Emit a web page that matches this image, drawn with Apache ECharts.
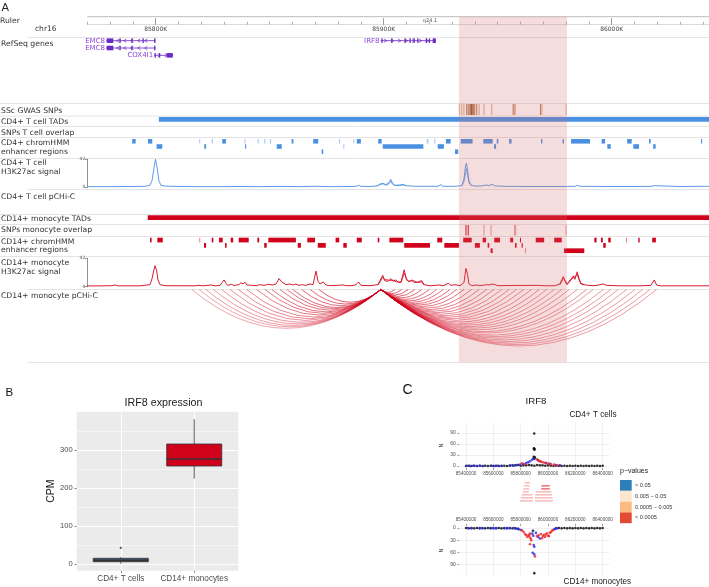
<!DOCTYPE html>
<html><head><meta charset="utf-8">
<script src="https://cdn.jsdelivr.net/npm/echarts@6/dist/echarts.min.js"></script>
<style>html,body{margin:0;padding:0;background:#fff}#c{width:709px;height:587px}</style>
</head><body><div id="c"></div>
<script>
// ================= DATA =================
// ---- Panel A (genomic positions in kb, chr16) ----
const viewStart = 85770, viewEnd = 86042.7;
const rulerMajor = [85800, 85900, 86000];
const highlightRegion = [[85933.0, 85980.4]];
const genes = [ // name, start, end, row, strand
  ['EMC8', 85778.2, 85799.9, 0, '-'],
  ['EMC8', 85778.2, 85799.9, 1, '-'],
  ['COX4I1', 85799.3, 85807.7, 2, '+'],
  ['IRF8', 85898.6, 85922.9, 0, '+']
];
const exons = [ // gene index, start, end
  [0,85778.5,85781.4],[0,85784.1,85784.6],[0,85789.3,85789.8],[0,85794.2,85794.7],[0,85799.3,85799.9],
  [1,85778.5,85781.4],[1,85784.1,85784.6],[1,85789.3,85789.8],[1,85799.3,85799.9],
  [2,85799.5,85799.9],[2,85801.4,85801.8],[2,85804.8,85807.5],
  [3,85899.0,85899.4],[3,85903.3,85903.7],[3,85909.1,85909.5],[3,85911.3,85911.7],[3,85913.1,85913.5],
  [3,85914.7,85915.1],[3,85918.4,85918.8],[3,85919.8,85920.2],[3,85921.5,85922.9]
];
const gwasSnps = [ // position, level
  [85933.2,1],[85934.2,1],[85935.2,1],[85936.4,2],[85937.1,2],[85937.9,3],[85938.6,3],[85939.2,3],
  [85939.9,2],[85940.8,2],[85941.9,1],[85944.0,1],[85947.4,1],[85956.8,2],[85957.6,2],[85968.8,2],
  [85969.4,1],[85980.0,1]
];
const tadCD4 = [[85801.4, 86042.7]];
const tadCD14 = [[85796.5, 86042.7]];
const enhCD4 = [ // start, end, row, score
  [85789.7,85791.2,0,1],[85796.6,85798.5,0,1],[85819.1,85819.5,0,0.5],[85824.6,85825.0,0,0.6],[85829.2,85830.8,0,1],
  [85838.9,85839.2,0,0.5],[85844.7,85845.2,0,0.5],[85847.6,85848.1,0,0.5],[85850.1,85850.6,0,0.5],[85859.6,85860.4,0,1],
  [85869.1,85871.3,0,1],[85880.4,85880.7,0,0.5],[85886.7,85887.0,0,0.5],[85888.2,85890.0,0,1],[85897.6,85899.1,0,1],
  [85918.9,85919.6,0,0.5],[85922.2,85922.6,0,0.5],[85927.3,85929.4,0,1],[85933.8,85939.0,0,1],[85943.7,85947.8,0,1],
  [85949.6,85950.3,0,1],[85955.0,85956.1,0,1],[85969.0,85969.6,0,1],[85978.5,85979.1,0,1],[85982.2,85990.5,0,1],
  [85995.6,85997.1,0,1],[86006.8,86008.8,0,1],[86016.4,86017.1,0,1],[86039.2,86039.7,0,1],
  [85800.4,85802.9,1,1],[85821.3,85822.1,1,1],[85839.2,85839.7,1,1],[85853.1,85855.3,1,1],[85882.3,85882.7,1,0.5],
  [85899.6,85917.4,1,1],[85923.7,85926.4,1,1],[85948.4,85949.3,1,1],[85998.1,85999.6,1,1],[86009.5,86012.0,1,1],
  [86018.2,86019.3,1,1],
  [85872.8,85873.5,2,1],[85931.3,85932.7,2,1]
];
const signalCD4 = [
  [85769.9,1.0],[85780.0,1.0],[85788.7,1.2],[85795.3,1.5],[85797.5,3],[85798.4,10],[85799.3,30],[85799.9,42],
  [85800.6,30],[85801.4,10],[85802.3,3],[85804.1,1.8],[85810.7,1.2],[85819.4,1.0],[85828.2,1.0],[85837.0,1.2],
  [85845.7,1.0],[85854.5,1.3],[85863.3,1.0],[85869.9,1.6],[85876.4,1.0],[85885.2,1.2],[85887.9,1.5],[85889.0,3],
  [85890.0,1.5],[85894.0,1.2],[85897.1,2],[85898.4,5],[85899.7,6],[85901.0,4],[85902.3,7],[85903.1,12],
  [85903.9,6],[85905.0,3],[85907.1,3.5],[85908.5,4.5],[85909.8,2.5],[85913.7,1.5],[85920.3,1.5],[85923.8,1.5],
  [85925.1,4],[85926.0,1.5],[85931.3,1.5],[85934.3,2.5],[85935.2,12],[85935.9,32],[85936.3,36],[85936.8,26],
  [85937.4,10],[85938.3,3],[85940.0,1.8],[85943.1,2],[85944.9,3.5],[85946.2,2.5],[85947.5,4.5],[85948.8,2],
  [85953.2,1.5],[85964.2,1.2],[85977.3,1.2],[85983.9,1.5],[85985.1,3],[85986.1,1.5],[85994.9,1.3],[86003.6,1.2],
  [86012.4,1.2],[86017.7,1.5],[86018.6,2.5],[86019.4,1.5],[86030.0,1.2],[86038.7,1.5],[86042.7,1.5]
];
const signalCD4RepA = [[85934.3,2],[85935.2,8],[85935.9,20],[85936.3,28],[85936.8,18],[85937.4,7],[85938.3,2.5]];
const signalCD4RepB = [[85897.1,1.5],[85898.4,4],[85899.7,5],[85901.0,3],[85902.3,5],[85903.1,9],[85903.9,4.5],
  [85905.0,2.5],[85907.1,2.5],[85908.5,3.5],[85909.8,2]];
const snpMono = [[85936.1,2],[85937.1,2],[85944.0,1],[85947.1,1],[85957.4,1],[85957.9,1],[85980.0,1]];
const enhCD14 = [
  [85797.5,85798.2,0,1],[85800.7,85803.1,0,1],[85819.1,85819.4,0,0.5],[85824.6,85825.3,0,1],[85827.8,85829.4,0,1],
  [85832.9,85834.0,0,1],[85836.4,85840.8,0,1],[85844.6,85845.4,0,1],[85849.4,85861.5,0,1],[85866.5,85869.9,0,1],
  [85878.9,85880.5,0,1],[85888.2,85890.4,0,1],[85897.4,85898.1,0,1],[85902.5,85908.6,0,1],[85923.5,85925.7,0,1],
  [85934.9,85938.6,0,1],[85943.4,85944.9,0,1],[85948.5,85951.0,0,1],[85955.5,85956.8,0,1],[85959.8,85960.2,0,1],
  [85966.7,85970.4,0,1],[85974.8,85978.1,0,1],[85992.4,85993.4,0,1],[85995.3,85996.1,0,1],[85998.5,85999.6,0,1],
  [86006.3,86006.7,0,0.5],[86011.7,86012.3,0,1],[86017.8,86019.4,0,1],
  [85821.2,85822.1,1,1],[85830.4,85831.1,1,1],[85847.6,85848.7,1,1],[85862.3,85863.7,1,1],[85871.1,85874.6,1,1],
  [85882.3,85883.8,1,1],[85909.0,85920.3,1,1],[85926.6,85933.0,1,1],[85940.0,85942.2,1,1],[85945.6,85946.3,1,1],
  [85957.6,85958.3,1,1],[85960.5,85961.0,1,1],[85996.3,85997.4,1,1],
  [85946.9,85947.8,2,1],[85962.0,85962.3,2,0.5],[85979.1,85988.0,2,1]
];
const signalCD14 = [
  [85769.9,1.2],[85775.6,1.2],[85780.8,1.5],[85782.2,2.5],[85783.5,1.3],[85793.1,1.3],[85797.5,3],[85798.4,12],
  [85799.3,26],[85799.7,31],[85800.4,24],[85801.0,10],[85801.9,3],[85804.1,1.5],[85817.2,1.3],[85819.0,2],
  [85820.7,1.3],[85824.3,2.5],[85826.0,1.3],[85828.2,2],[85829.1,6],[85830.0,10],[85830.8,5],[85831.7,2],
  [85833.3,3.5],[85834.3,1.8],[85836.5,3],[85837.4,6],[85838.3,4],[85839.2,6.5],[85840.0,2.5],[85842.1,2],
  [85844.0,1.5],[85845.7,3],[85847.5,2],[85849.3,3.5],[85851.4,2.5],[85852.8,4],[85854.1,12],[85855.3,7],
  [85855.8,5],[85857.1,3],[85858.9,4],[85860.2,2.5],[85861.5,4],[85862.9,2],[85864.0,3],[85865.9,2],
  [85867.7,4],[85869.0,3],[85870.3,23],[85871.2,8],[85872.1,4],[85873.5,7],[85874.7,2.5],[85876.4,1.5],
  [85882.3,2.5],[85883.5,1.5],[85886.1,1.5],[85887.9,3],[85889.0,7],[85890.0,2],[85894.0,1.5],[85897.5,3],
  [85898.4,9],[85899.6,17],[85900.4,9],[85901.0,11],[85901.9,8],[85903.2,12],[85904.1,8],[85905.4,10],
  [85906.4,6],[85907.6,7],[85909.0,25],[85910.0,10],[85911.1,8],[85912.4,9],[85913.7,6],[85915.0,7],
  [85916.7,9],[85917.7,3],[85920.3,1.5],[85924.7,2.5],[85926.0,1.3],[85928.3,5],[85929.5,2],[85931.3,3],
  [85933.5,1.5],[85935.2,6],[85936.1,27],[85936.8,18],[85937.4,4],[85938.7,1.5],[85940.8,2.5],[85942.2,1.5],
  [85945.2,3],[85946.2,2.5],[85947.5,4],[85948.8,3],[85950.1,1.5],[85956.8,1.8],[85967.8,2],[85970.8,1.3],
  [85975.1,1.5],[85977.3,4],[85978.8,15],[85979.7,7],[85980.4,3],[85981.7,8],[85983.2,16],[85983.9,11],
  [85984.9,22],[85985.7,12],[85986.5,5],[85987.9,3],[85989.6,2],[85992.7,1.5],[85996.3,4],[85997.8,2],
  [86003.6,1.3],[86012.4,1.3],[86017.2,2],[86018.7,10],[86019.7,2.5],[86021.2,1.3],[86042.7,1.3]
];
const signalCD14RepA = [[85897.5,2.5],[85898.4,7],[85899.6,14],[85900.4,11],[85901.0,9],[85901.9,10],[85903.2,9],
  [85904.1,10],[85905.4,7],[85906.4,8],[85907.6,6],[85909.0,20],[85910.0,12],[85911.1,7],[85912.4,10],[85913.7,8],
  [85915.0,6],[85916.7,7],[85917.7,2.5]];
const signalCD14RepB = [[85977.3,3],[85978.8,12],[85979.7,9],[85980.4,4],[85981.7,10],[85983.2,13],[85983.9,14],
  [85984.9,18],[85985.7,10],[85986.5,4],[85987.9,2.5]];
const pchicAnchor = 85898.8;
const pchicEnds = [ // other end, score
  [85815.8,0.45],[85819.0,0.45],[85821.9,0.5],[85825.3,0.5],[85828.9,0.55],[85832.6,0.55],[85836.2,0.6],[85839.9,0.6],
  [85844.3,0.65],[85847.9,0.65],[85850.9,0.7],[85854.5,0.7],[85857.5,0.7],[85860.1,0.75],[85864.0,0.75],[85867.7,0.75],
  [85871.6,0.8],
  [85905.0,0.8],[85907.9,0.8],[85910.8,0.8],[85913.7,0.75],[85916.7,0.75],[85920.0,0.75],[85923.2,0.7],[85926.1,0.7],
  [85929.1,0.7],[85932.0,0.7],[85935.2,0.7],[85938.6,0.65],[85941.9,0.65],[85945.2,0.65],[85948.4,0.65],[85951.8,0.6],
  [85955.1,0.6],[85958.3,0.6],[85961.5,0.6],[85964.9,0.6],[85968.2,0.6],[85971.5,0.55],[85974.8,0.55],[85978.1,0.55],
  [85981.4,0.55],[85984.9,0.55],[85989.0,0.55],[85991.9,0.5],[85996.3,0.5],[85999.6,0.5],[86002.9,0.5],[86006.6,0.5],
  [86010.2,0.5],[86013.6,0.5],[86016.8,0.5],[86019.7,0.5]
];

// ---- Panel B ----
const exprCats = ['CD4+ T cells', 'CD14+ monocytes'];
const exprBox = [[1.6, 6.8, 10.5, 15.8, 19], [225.3, 258.7, 277, 316.6, 381.6]]; // min,q1,median,q3,max
const exprOutliers = [[1, 43]];
const cpmTicks = [0, 100, 200, 300];
const cpmMinor = [50, 150, 250, 350];

// ---- Panel C ----
const posTicks = [85400000, 85600000, 85800000, 86000000, 86200000, 86400000];
const posMinor = [85500000, 85700000, 85900000, 86100000, 86300000];
const nTicks = [0, 30, 60, 90];
const nMinor = [15, 45, 75, 105];
const cd4Black = [
  [85400000,0],[85420000,1],[85440000,0],[85460000,1],[85480000,0],[85500000,1],[85520000,0],[85540000,1],[85560000,0],
  [85580000,1],[85600000,0],[85620000,1],[85640000,0],[85660000,1],[85680000,1],[85700000,0],[85720000,1],[85740000,2],
  [85760000,2],[85780000,3],[85800000,1],[85820000,2],[85840000,2],[85860000,3],[85880000,2],[85900000,1],[85920000,3],
  [85940000,2],[85960000,2],[85980000,1],[86000000,2],[86020000,1],[86040000,0],[86060000,1],[86080000,1],[86100000,0],
  [86120000,1],[86140000,0],[86160000,1],[86180000,0],[86200000,1],[86220000,0],[86240000,1],[86260000,0],[86280000,1],
  [86300000,0],[86320000,1],[86340000,0],[86360000,1],[86380000,0],[86400000,1],
  [85896000,25],[85897000,48],[85898000,22],[85898000,46],[85899000,88],[85899500,46],[85900500,20],[85901000,44],[85903000,24]
];
const cd4Blue = [
  [85405000,1],[85429000,0],[85453000,1],[85478000,0],[85502000,1],[85526000,0],[85588000,1],[85612000,0],[85634000,1],
  [85661000,0],[85722000,2],[85746000,1],[85771000,3],[85795000,4],[85817000,6],[85839000,8],[85854000,10],[85868000,13],
  [85883000,17],[85892000,20],[85927000,16],[85941000,13],[85985000,8],[86015000,6],[86058000,3],[86088000,2]
];
const cd4Red = [
  [85807000,7],[85832000,5],[85919000,18],[85934000,14],[85949000,12],[85963000,10],[85978000,9],[86000000,7],
  [86022000,5],[86044000,4],[86066000,2]
];
const cd14Black = [
  [85400000,0],[85420000,1],[85440000,0],[85460000,1],[85480000,0],[85500000,1],[85520000,0],[85540000,1],[85560000,0],
  [85580000,1],[85600000,0],[85620000,1],[85640000,0],[85660000,1],[85680000,0],[85700000,1],[85720000,0],[85740000,1],
  [85760000,1],[85780000,2],[86060000,1],[86080000,0],[86100000,1],[86120000,0],[86140000,1],[86160000,0],[86180000,1],
  [86200000,0],[86220000,1],[86240000,0],[86260000,1],[86280000,0],[86300000,1],[86320000,0],[86340000,1],[86360000,0],
  [86380000,1],[86400000,0],[85890000,7],[85899600,111]
];
const cd14Blue = [
  [85410000,0],[85440000,1],[85500000,0],[85520000,1],[85580000,0],[85600000,1],[85620000,0],[85680000,1],[85700000,0],
  [85720000,1],[85750000,0],[85770000,2],[85785000,3],[85800000,5],[85885000,14],[85892000,19],[85899600,46],[85888000,61],
  [85899600,65],[85895000,42],[85912000,12],[85927000,22],[85940000,26],[86044000,4],[86052000,2],[86066000,1]
];
const cd14Red = [
  [85810000,6],[85821000,10],[85832000,15],[85840000,18],[85850000,22],[85858000,17],[85863000,20],[85868000,14],
  [85872000,25],[85877000,30],[85868000,40],[85904700,70],[85919000,20],[85930000,18],[85948000,15],[85956000,25],
  [85963000,20],[85970000,17],[85978000,22],[85985000,16],[85992000,13],[86000000,19],[86007000,20],[86014000,12],
  [86022000,10],[86029000,7],[86036000,5]
];
const pinkRows = [ // start, end, row, dark
  [85830000,85868000,0,0],[85825000,85866000,1,0],[85820000,85862000,2,0],[85815000,85860000,3,0],
  [85808000,85886000,4,0],[85800000,85890000,5,0],[85795000,85888000,6,0],
  [85952000,86012000,1,1],[85950000,86014000,2,1],[85910000,86025000,3,0],[85906000,86030000,4,0],
  [85905000,86034000,5,0],[85905000,86036000,6,0]
];
const pLegend = ['> 0.05', '0.005 \u2212 0.05', '0.0005 \u2212 0.005', '< 0.0005'];
const pColors = ['#2c7fb8', '#fee6ce', '#fdbb84', '#e34a33'];

// ================= STYLE / LAYOUT =================
const BLUE = '#4a90e2', RED = '#d0021b', GENE = '#6a2bc2', GENE_LBL = '#8a46d6';
const FA = 'DejaVu Sans', FB = 'Liberation Sans';

function ax(o) {
  const base = {type:'value', axisLine:{show:false, onZero:false}, axisTick:{show:false}, axisLabel:{show:false},
    splitLine:{show:false}, splitArea:{show:false}, minorTick:{show:false}, minorSplitLine:{show:false}};
  for (const k in o) {
    if (o[k] && typeof o[k] === 'object' && !Array.isArray(o[k]) && base[k] && typeof base[k] === 'object') base[k] = Object.assign({}, base[k], o[k]);
    else base[k] = o[k];
  }
  return base;
}
function G(top, height, left, width, extra) {
  return Object.assign({left: left === undefined ? 87.3 : left, top, width: width === undefined ? 621.7 : width, height,
    containLabel:false, outerBoundsMode:'none', show:false}, extra || {});
}
function bandRender(color, h) {
  return function (params, api) {
    const cs = params.coordSys;
    const p0 = api.coord([api.value(0), api.value(2)]);
    const p1 = api.coord([api.value(1), api.value(2) + h]);
    let x0 = Math.max(cs.x, Math.min(p0[0], p1[0]));
    let x1 = Math.min(cs.x + cs.width, Math.max(p0[0], p1[0]));
    if (x1 - x0 < 1) x1 = x0 + 1;
    const sc = api.value(3);
    const fill = typeof color === 'function' ? color(sc) : color;
    return {type:'rect', shape:{x:x0, y:Math.min(p0[1], p1[1]), width:x1 - x0, height:Math.abs(p1[1] - p0[1])},
      style:{fill, opacity: (typeof color === 'function' || isNaN(sc)) ? 1 : sc}};
  };
}
function tickRender(colors) {
  return function (params, api) {
    const cs = params.coordSys;
    const p = api.coord([api.value(0), 0]);
    return {type:'rect', shape:{x:p[0] - 0.6, y:cs.y, width:1.2, height:cs.height}, style:{fill: colors[api.value(1) - 1]}};
  };
}

// ---- grids ----
const grids = [
  G(16.7, 8),     // 0 ruler
  G(37, 22),      // 1 genes
  G(104, 11),     // 2 gwas
  G(117.1, 4.6),  // 3 tad cd4
  G(139, 15.6),   // 4 enh cd4
  G(159.3, 28),   // 5 sig cd4
  G(215.2, 4.8),  // 6 tad cd14
  G(225, 10.5),   // 7 snp mono
  G(237.7, 16),   // 8 enh cd14
  G(258.3, 28.4), // 9 sig cd14
  G(289.5, 72),   // 10 arcs
  G(16.7, 345.6), // 11 highlight
  G(411.7, 159, 76.7, 161.6, {show:true, backgroundColor:'#ebebeb', borderWidth:0}), // 12 B
  G(423, 45.1, 459.2, 150.3),   // 13 C top
  G(482, 21, 459.2, 150.3),     // 14 C middle
  G(525.7, 49.7, 459.2, 150.3)  // 15 C bottom
];

const xAxes = [];
const yAxes = [];
// ruler
xAxes.push(ax({gridIndex:0, min:viewStart, max:viewEnd, interval:10, position:'bottom',
  axisLine:{show:true, lineStyle:{color:'#dcdcdc', width:1}},
  axisTick:{show:true, inside:true, length:3, lineStyle:{color:'#b0b0b0', width:1}}}));
xAxes.push(ax({gridIndex:0, min:viewStart, max:viewEnd, position:'bottom',
  axisTick:{show:true, inside:true, length:6.5, customValues:rulerMajor, lineStyle:{color:'#999', width:1}},
  axisLabel:{show:true, customValues:rulerMajor, formatter: v => v + 'K', fontSize:6, color:'#444', margin:1.8, fontFamily:FA}}));
yAxes.push(ax({gridIndex:0, min:0, max:1}));
// genomic tracks: grids 1..11 -> xAxis 2..12, yAxis 1..11
const yCfg = {
  1:{min:0,max:3,inverse:true}, 2:{min:0,max:3}, 3:{min:0,max:0.88}, 4:{min:0,max:3,inverse:true},
  6:{min:0,max:0.88}, 7:{min:0,max:3}, 8:{min:0,max:3,inverse:true}, 10:{min:0,max:1,inverse:true}, 11:{min:0,max:0.88}
};
for (let g = 1; g <= 11; g++) {
  xAxes.push(ax({gridIndex:g, min:viewStart, max:viewEnd}));
  if (g === 5 || g === 9) {
    yAxes.push(ax({gridIndex:g, min:0, max:42, interval:42,
      axisLine:{show:true, onZero:false, lineStyle:{color:'#777', width:0.8}},
      axisTick:{show:true, length:2.5, lineStyle:{color:'#777', width:0.8}},
      axisLabel:{show:true, fontSize:4.5, color:'#555', margin:2, fontFamily:FA}}));
  } else {
    yAxes.push(ax(Object.assign({gridIndex:g}, yCfg[g])));
  }
}
// B: xAxis 13, yAxis 12,13
xAxes.push(ax({gridIndex:12, min:0.4, max:2.6,
  axisTick:{show:true, length:2.2, customValues:[1,2], lineStyle:{color:'#333', width:0.6}},
  axisLabel:{show:true, customValues:[1,2], formatter: v => exprCats[Math.round(v) - 1], fontSize:8.2, color:'#4d4d4d', margin:4, fontFamily:FB},
  splitLine:{show:true, lineStyle:{color:'#fff', width:1}}}));
yAxes.push(ax({gridIndex:12, min:-16.8, max:401.6,
  axisTick:{show:true, length:2.2, customValues:cpmTicks, lineStyle:{color:'#333', width:0.6}},
  axisLabel:{show:true, customValues:cpmTicks, fontSize:7.6, color:'#4d4d4d', margin:4, fontFamily:FB},
  splitLine:{show:true, lineStyle:{color:'#fff', width:1}},
  name:'CPM', nameLocation:'middle', nameGap:17, nameRotate:90, nameTextStyle:{fontSize:10.5, color:'#1a1a1a', fontFamily:FB}}));
yAxes.push(ax({gridIndex:12, min:-16.8, max:401.6, position:'left',
  axisTick:{show:false, customValues:cpmMinor}, splitLine:{show:true, lineStyle:{color:'#fff', width:0.5}}}));
// C
function cX(grid, pos, major) {
  if (major) return ax({gridIndex:grid, min:85350000, max:86450000, position:pos,
    axisTick:{show:true, length:1.8, customValues:posTicks, lineStyle:{color:'#333', width:0.5}},
    axisLabel:{show:true, customValues:posTicks, formatter: v => String(v), fontSize:4.6, color:'#4d4d4d', margin:3, fontFamily:FB},
    splitLine:{show:true, lineStyle:{color:'#e6e6e6', width:0.6}}});
  return ax({gridIndex:grid, min:85350000, max:86450000, position:pos,
    axisTick:{show:false, customValues:posMinor}, splitLine:{show:true, lineStyle:{color:'#f3f3f3', width:0.4}}});
}
function cY(grid, inverse, major) {
  if (major) return ax({gridIndex:grid, min:-5.5, max:116.5, inverse, position:'left',
    axisTick:{show:true, length:1.8, customValues:nTicks, lineStyle:{color:'#333', width:0.5}},
    axisLabel:{show:true, customValues:nTicks, fontSize:5, color:'#4d4d4d', margin:3.5, fontFamily:FB},
    splitLine:{show:true, lineStyle:{color:'#e6e6e6', width:0.6}},
    name:'N', nameLocation:'middle', nameGap:14.5, nameRotate:90, nameTextStyle:{fontSize:5.5, color:'#222', fontFamily:FB}});
  return ax({gridIndex:grid, min:-5.5, max:116.5, inverse, position:'left',
    axisTick:{show:false, customValues:nMinor}, splitLine:{show:true, lineStyle:{color:'#f3f3f3', width:0.4}}});
}
xAxes.push(cX(13, 'bottom', true));   // 14
xAxes.push(cX(13, 'bottom', false));  // 15
xAxes.push(ax({gridIndex:14, min:85350000, max:86450000})); // 16
xAxes.push(cX(15, 'top', true));      // 17
xAxes.push(cX(15, 'top', false));     // 18
yAxes.push(cY(13, false, true));      // 14
yAxes.push(cY(13, false, false));     // 15
yAxes.push(ax({gridIndex:14, min:0, max:7, inverse:true})); // 16
yAxes.push(cY(15, true, true));       // 17
yAxes.push(cY(15, true, false));      // 18

// ---- series ----
const series = [];
// genes
series.push({type:'custom', xAxisIndex:2, yAxisIndex:1, silent:true,
  encode:{x:[0,1], y:2},
  data: genes.map((g, i) => [g[1], g[2], g[3], i]),
  renderItem: function (params, api) {
    const g = genes[params.dataIndex];
    const y = api.coord([g[1], g[3] + 0.5])[1];
    const x0 = api.coord([g[1], 0])[0], x1 = api.coord([g[2], 0])[0];
    const ch = [{type:'line', shape:{x1:x0, y1:y, x2:x1, y2:y}, style:{stroke:GENE, lineWidth:0.8}}];
    const dir = g[4] === '-' ? -1 : 1;
    for (let x = x0 + 5; x < x1 - 3; x += 7) {
      ch.push({type:'polyline', shape:{points:[[x - dir * 1.4, y - 1.7], [x + dir * 1.4, y], [x - dir * 1.4, y + 1.7]]},
        style:{stroke:GENE, fill:'none', lineWidth:0.7}});
    }
    exons.filter(e => e[0] === params.dataIndex).forEach(e => {
      const a = api.coord([e[1], 0])[0], b = api.coord([e[2], 0])[0];
      ch.push({type:'rect', shape:{x:a, y:y - 2.3, width:Math.max(b - a, 1.3), height:4.6}, style:{fill:GENE}});
    });
    ch.push({type:'text', style:{text:g[0], x:x0 - 1, y:y + 0.3, align:'right', verticalAlign:'middle',
      fontSize:7, fontFamily:FA, fill:GENE_LBL}});
    return {type:'group', children:ch};
  }});
// GWAS SNPs
series.push({type:'custom', xAxisIndex:3, yAxisIndex:2, silent:true, encode:{x:0, y:1}, data:gwasSnps,
  renderItem: tickRender(['#ddb79d', '#bf8761', '#8a4a20'])});
// TADs CD4
series.push({type:'custom', xAxisIndex:4, yAxisIndex:3, silent:true, encode:{x:[0,1], y:2},
  data: tadCD4.map(t => [t[0], t[1], 0, 1]), renderItem: bandRender(BLUE, 0.88)});
// enhancers CD4
series.push({type:'custom', xAxisIndex:5, yAxisIndex:4, silent:true, encode:{x:[0,1], y:2},
  data: enhCD4, renderItem: bandRender(BLUE, 0.88)});
// signal CD4
[signalCD4, signalCD4RepA, signalCD4RepB].forEach((d, i) => series.push({type:'line', xAxisIndex:6, yAxisIndex:5, data:d,
  showSymbol:false, symbol:'none', silent:true, lineStyle:{color:BLUE, width:0.9, opacity: i ? 0.8 : 1}, itemStyle:{color:BLUE}}));
// TADs CD14
series.push({type:'custom', xAxisIndex:7, yAxisIndex:6, silent:true, encode:{x:[0,1], y:2},
  data: tadCD14.map(t => [t[0], t[1], 0, 1]), renderItem: bandRender(RED, 0.88)});
// SNPs monocyte overlap
series.push({type:'custom', xAxisIndex:8, yAxisIndex:7, silent:true, encode:{x:0, y:1}, data:snpMono,
  renderItem: tickRender(['#eda0a6', '#d8283d'])});
// enhancers CD14
series.push({type:'custom', xAxisIndex:9, yAxisIndex:8, silent:true, encode:{x:[0,1], y:2},
  data: enhCD14, renderItem: bandRender(RED, 0.88)});
// signal CD14
[signalCD14, signalCD14RepA, signalCD14RepB].forEach((d, i) => series.push({type:'line', xAxisIndex:10, yAxisIndex:9, data:d,
  showSymbol:false, symbol:'none', silent:true, lineStyle:{color:RED, width:0.9, opacity: i ? 0.8 : 1}, itemStyle:{color:RED}}));
// pCHi-C arcs
series.push({type:'custom', xAxisIndex:11, yAxisIndex:10, silent:true, encode:{x:0, y:1}, data:pchicEnds,
  renderItem: function (params, api) {
    const a = api.coord([pchicAnchor, 0]);
    const b = api.coord([api.value(0), 0]);
    const span = Math.abs(b[0] - a[0]);
    return {type:'bezierCurve', shape:{x1:a[0], y1:a[1], x2:b[0], y2:b[1], cpx1:(a[0] + b[0]) / 2, cpy1:a[1] + 0.41 * span},
      style:{stroke:RED, fill:'none', lineWidth:0.8, opacity:api.value(1)}};
  }});
// highlight
series.push({type:'custom', xAxisIndex:12, yAxisIndex:11, silent:true, z:20, encode:{x:[0,1], y:2},
  data: highlightRegion.map(h => [h[0], h[1], 0, 1]), renderItem: bandRender('rgba(214,110,110,0.23)', 0.88)});
// B boxplot
const boxFill = ['#3a5a80', '#d0021b'];
series.push({type:'custom', xAxisIndex:13, yAxisIndex:12, silent:true, z:5, encode:{x:0, y:[1,2,3,4,5]},
  data: exprBox.map((b, i) => [i + 1].concat(b)),
  renderItem: function (params, api) {
    const x = api.value(0);
    const pMin = api.coord([x, api.value(1)]), pQ1 = api.coord([x, api.value(2)]), pMed = api.coord([x, api.value(3)]);
    const pQ3 = api.coord([x, api.value(4)]), pMax = api.coord([x, api.value(5)]);
    const w = api.size([0.75, 0])[0];
    const cx = pMed[0];
    const st = {stroke:'#333', lineWidth:0.8};
    return {type:'group', children:[
      {type:'line', shape:{x1:cx, y1:pMax[1], x2:cx, y2:pQ3[1]}, style:st},
      {type:'line', shape:{x1:cx, y1:pQ1[1], x2:cx, y2:pMin[1]}, style:st},
      {type:'rect', shape:{x:cx - w / 2, y:pQ3[1], width:w, height:pQ1[1] - pQ3[1]}, style:{fill:boxFill[params.dataIndex], stroke:'#333', lineWidth:0.8}},
      {type:'line', shape:{x1:cx - w / 2, y1:pMed[1], x2:cx + w / 2, y2:pMed[1]}, style:{stroke:'#333', lineWidth:1.6}}
    ]};
  }});
series.push({type:'scatter', xAxisIndex:13, yAxisIndex:12, data:exprOutliers, symbolSize:2.2, silent:true, z:6,
  itemStyle:{color:'#333'}});
// C scatter
function pts(data, xi, yi, color) {
  return {type:'scatter', xAxisIndex:xi, yAxisIndex:yi, data, symbolSize:2.6, silent:true,
    itemStyle:{color, opacity:0.85}};
}
series.push(pts(cd4Black, 14, 14, '#111'), pts(cd4Blue, 14, 14, '#2f2fe8'), pts(cd4Red, 14, 14, '#f22a2a'));
series.push(pts(cd14Black, 17, 17, '#111'), pts(cd14Blue, 17, 17, '#2f2fe8'), pts(cd14Red, 17, 17, '#f22a2a'));
series.push({type:'custom', xAxisIndex:16, yAxisIndex:16, silent:true, encode:{x:[0,1], y:2}, data:pinkRows,
  renderItem: bandRender(v => v ? 'rgba(232,80,80,0.75)' : 'rgba(244,140,140,0.55)', 0.55)});

// ---- graphic (labels, separators, legend) ----
const gfx = [];
function txt(t, x, y, size, fam, color, align, extra) {
  gfx.push({type:'text', silent:true, style:Object.assign({text:t, x, y, fontSize:size, fontFamily:fam, fill:color,
    align: align || 'left', verticalAlign:'middle'}, extra || {})});
}
function hline(y, x1, x2, color) {
  gfx.push({type:'line', silent:true, shape:{x1, y1:y, x2, y2:y}, style:{stroke:color || '#e4e4e4', lineWidth:1}});
}
[[37.5,28],[103.5,0],[116,0],[126.5,0],[137.5,0],[158.5,0],[189.5,28],[214.5,0],[224.5,0],[236.5,0],[256.5,0],[289.5,28],[362.5,28]]
  .forEach(s => hline(s[0], s[1], 709));
hline(16.7, 87.3, 709, '#bdbdbd');
txt('A', 1.5, 8.5, 11, FA, '#222');
const trackLabels = [
  ['Ruler',0,20.7],['RefSeq genes',1,44.3],['SSc GWAS SNPs',1,111],['CD4+ T cell TADs',1,122],['SNPs T cell overlap',1,133],
  ['CD4+ chromHMM',1,142.7],['enhancer regions',1,152.3],['CD4+ T cell',1,163.3],['H3K27ac signal',1,171.7],
  ['CD4+ T cell pCHi-C',1,196.7],['CD14+ monocyte TADs',1,219.5],['SNPs monocyte overlap',1,230.3],['CD14+ chromHMM',1,242.2],
  ['enhancer regions',1,250.5],['CD14+ monocyte',1,262.7],['H3K27ac signal',1,272],['CD14+ monocyte pCHi-C',1,296.5]
];
trackLabels.forEach(l => txt(l[0], l[1], l[2], 7.7, FA, '#333'));
txt('chr16', 35, 29.3, 7.5, FA, '#333');
txt('q24.1', 430, 21, 5, FA, '#555', 'center');
// B
txt('B', 5.5, 392.5, 11.6, FB, '#111');
txt('IRF8 expression', 163.5, 403.3, 10.7, FB, '#1a1a1a', 'center');
// C
txt('C', 402.5, 390, 14, FB, '#111');
txt('IRF8', 536, 401.7, 9.7, FB, '#1a1a1a', 'center');
txt('CD4+ T cells', 593, 415, 8.2, FB, '#1a1a1a', 'center');
txt('CD14+ monocytes', 563.5, 581.7, 8.2, FB, '#1a1a1a');
txt('p\u2212values', 620, 471, 7, FB, '#222');
pLegend.forEach((l, i) => {
  gfx.push({type:'rect', silent:true, shape:{x:620, y:480 + i * 10.8, width:11.7, height:10.8}, style:{fill:pColors[i]}});
  txt(l, 635, 485.4 + i * 10.8, 5.6, FB, '#333');
});

const option = {
  animation:false,
  backgroundColor:'#ffffff',
  textStyle:{fontFamily:FB},
  grid: grids,
  xAxis: xAxes,
  yAxis: yAxes,
  series,
  graphic:{elements:gfx}
};
const chart = echarts.init(document.getElementById('c'), null, {renderer:'canvas', width:709, height:587});
chart.setOption(option);
</script></body></html>
